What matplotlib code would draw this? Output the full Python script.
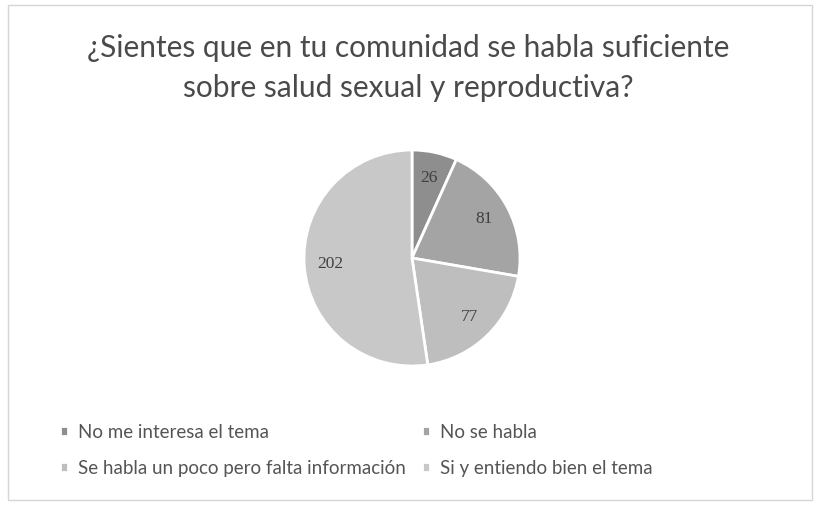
import matplotlib.pyplot as plt
from matplotlib.patches import Rectangle
import numpy as np

plt.rcParams['font.family'] = ['Lato', 'DejaVu Sans']

# data
categories = ['No me interesa el tema', 'No se habla',
              'Se habla un poco pero falta información', 'Si y entiendo bien el tema']
values = [26, 81, 77, 202]
colors = ['#8e8e8e', '#a4a4a4', '#bebebe', '#c8c8c8']
title = '¿Sientes que en tu comunidad se habla suficiente\nsobre salud sexual y reproductiva?'

fig = plt.figure(figsize=(8.17, 5.08), dpi=100)
fig.patches.append(Rectangle((0.010, 0.016), 0.984, 0.975, transform=fig.transFigure,
                             fill=False, edgecolor='#d6d6d6', linewidth=1.0))

fig.text(0.5, 1 - 68 / 508, title, ha='center', va='center', fontsize=21.5,
         color='#4a4a4a', linespacing=1.5)

# pie centred at ~ (412, 258) px, radius ~108 px
ax = fig.add_axes([(412 - 108) / 817, 1 - (258 + 108) / 508, 216 / 817, 216 / 508])
wedges, _ = ax.pie(values, colors=colors, startangle=90, counterclock=False,
                   wedgeprops=dict(edgecolor='white', linewidth=2))
total = sum(values)
start = 90
for w, v in zip(wedges, values):
    mid = np.deg2rad(start - v / total * 360 / 2)
    start -= v / total * 360
    ax.text(0.76 * np.cos(mid), 0.76 * np.sin(mid), str(v), ha='center', va='center',
            fontsize=12.5, color='#404040', family=['Liberation Serif', 'DejaVu Serif'])
ax.set_aspect('equal')
ax.set_xlim(-1, 1)
ax.set_ylim(-1, 1)

order = [0, 2, 1, 3]
leg = fig.legend([wedges[i] for i in order], [categories[i] for i in order], ncol=2,
                 loc='upper left', bbox_to_anchor=(0.064, 0.18), frameon=False,
                 fontsize=13.5, handlelength=0.45, handleheight=0.45, handletextpad=0.5,
                 columnspacing=0.87, labelspacing=1.0, labelcolor='#555555',
                 borderaxespad=0)

fig.savefig('out.png', dpi=100)
